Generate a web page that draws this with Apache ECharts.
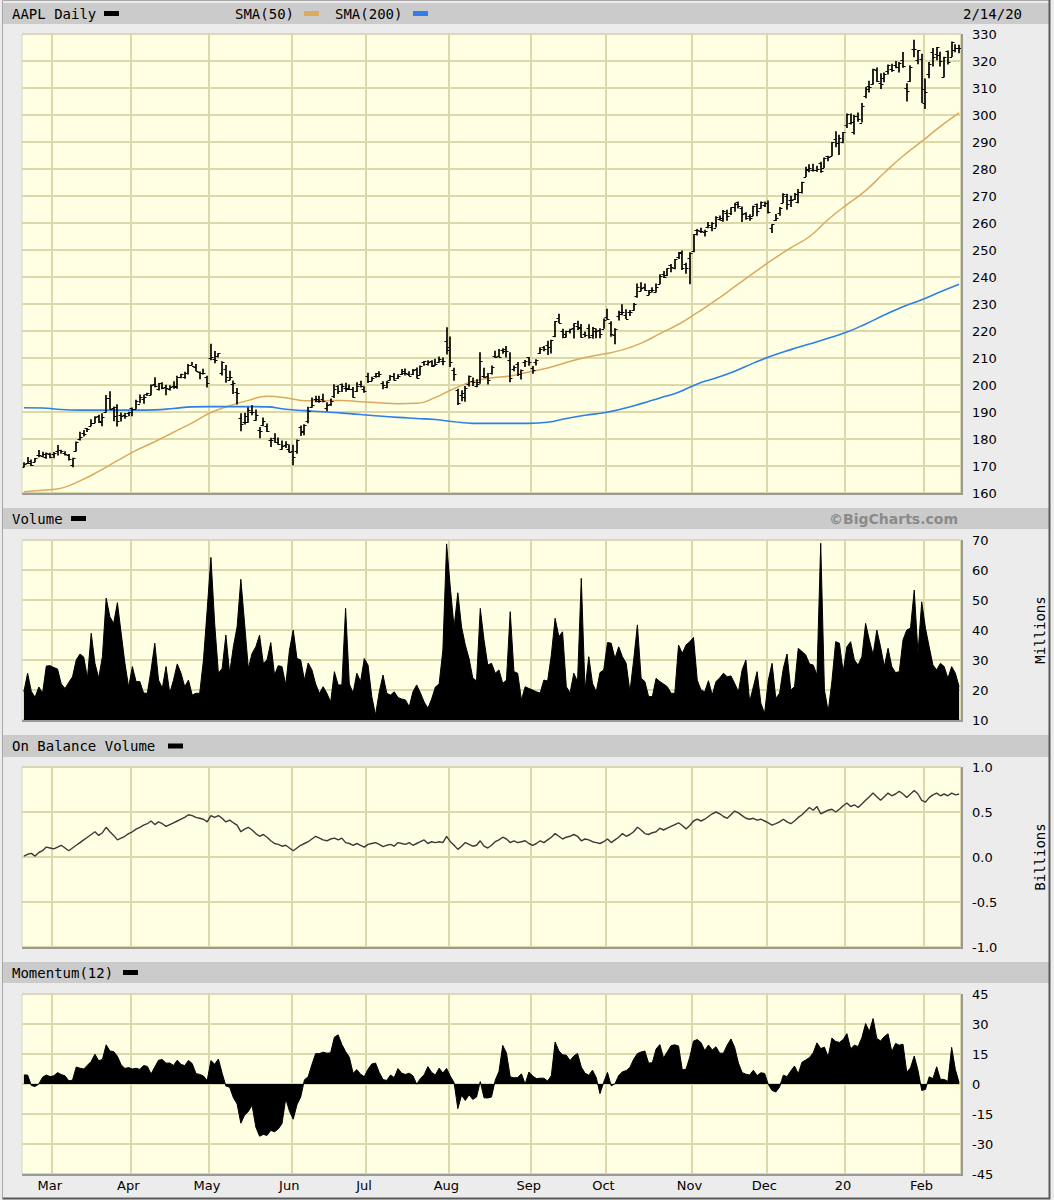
<!DOCTYPE html>
<html>
<head>
<meta charset="utf-8">
<script src="https://cdn.jsdelivr.net/npm/echarts@6/dist/echarts.min.js"></script>
<style>
html,body{margin:0;padding:0;background:#ececec;}
#chart{width:1054px;height:1200px;}
</style>
</head>
<body>
<div id="chart"></div>
<script>
// ---------------- DATA ----------------
const firstDay = '2019-02-19';
const lastDay = '2020-02-14';
const holidays = ['2019-04-19','2019-05-27','2019-07-04','2019-09-02','2019-11-28','2019-12-25','2020-01-01','2020-01-20'];
const monthKeys = ['2019-03','2019-04','2019-05','2019-06','2019-07','2019-08','2019-09','2019-10','2019-11','2019-12','2020-01','2020-02'];
const tickLabels = ['Mar','Apr','May','Jun','Jul','Aug','Sep','Oct','Nov','Dec','20','Feb'];

const priceTicks = {min:160, max:330, interval:10};
const volumeTicks = {min:10, max:70, interval:10};
const obvTicks = {min:-1, max:1, interval:0.5};
const momTicks = {min:-45, max:45, interval:15};

const open = [
169.7,171.2,171.8,171.6,174.2,173.7,173.2,174.3,
174.3,175.7,175.9,174.7,173.9,170.3,175.5,180.0,182.3,183.9,184.9,185.8,188.4,186.2,190.0,195.3,191.5,191.7,188.8,189.0,189.8,
191.6,191.1,193.0,194.8,196.5,196.4,200.3,198.7,200.9,199.2,198.6,199.5,199.5,203.1,202.8,204.4,207.4,206.8,204.9,204.4,203.1,
209.9,209.8,210.9,204.3,205.9,201.9,200.4,197.4,187.7,186.4,186.3,189.9,186.9,183.5,185.2,184.7,179.8,180.2,178.9,176.4,177.9,176.2,
175.6,175.4,184.3,183.1,186.5,191.8,194.9,194.0,194.7,191.6,192.9,196.1,199.7,200.4,198.8,198.5,198.4,197.8,200.3,198.7,
203.2,201.4,203.3,203.4,200.8,199.2,201.9,203.3,202.5,204.1,204.6,204.1,204.0,205.8,203.7,208.5,207.7,209.0,207.5,208.5,208.8,216.4,
213.9,205.5,198.0,196.3,195.4,200.2,201.3,199.6,201.0,203.2,203.5,204.3,210.6,210.9,213.0,213.2,209.4,205.9,207.9,204.1,208.5,210.2,
206.4,208.4,212.0,214.1,214.8,213.9,218.1,224.8,220.0,217.7,220.0,221.1,222.0,221.4,219.0,221.0,218.6,220.0,220.5,220.9,
225.1,223.1,218.4,225.6,226.3,225.8,227.0,227.9,233.0,234.9,236.4,233.4,235.1,234.6,237.5,241.2,240.9,244.5,243.2,247.4,249.0,244.8,247.2,
249.5,257.3,257.1,256.8,258.7,258.7,258.3,261.6,261.1,263.8,263.7,265.8,267.9,265.5,263.7,262.6,262.7,266.9,265.6,266.6,
267.3,258.3,261.1,263.8,267.5,270.0,268.6,268.8,267.8,271.5,277.0,279.6,279.8,279.5,282.2,280.5,284.7,284.8,291.1,289.5,289.9,
296.2,297.2,293.8,299.8,297.2,307.2,310.6,311.6,316.7,311.9,313.6,316.3,317.2,318.6,317.9,320.3,310.1,312.5,324.5,320.5,320.9,
304.3,315.3,323.5,322.6,322.4,314.2,323.6,321.5,324.2,324.7];
const high = [
171.4,173.3,172.4,173.0,175.9,175.3,175.0,174.9,
175.2,177.8,176.0,175.5,174.4,173.1,179.1,182.7,183.3,184.1,187.3,188.4,189.0,189.5,196.3,197.7,192.0,192.9,189.8,189.6,190.1,
191.7,194.5,196.5,196.4,197.1,200.2,202.9,200.7,201.0,200.1,199.9,201.4,203.4,204.2,204.9,207.8,208.5,207.8,205.0,206.0,203.4,
215.3,212.6,211.8,208.8,207.4,205.3,201.7,198.9,189.5,189.7,191.8,192.5,190.9,184.4,188.0,185.7,180.5,182.1,180.6,179.4,179.2,178.0,
177.9,179.8,185.0,185.5,191.9,195.4,196.0,196.0,196.8,193.6,195.0,200.3,199.9,200.6,200.8,200.2,199.3,201.0,201.6,199.5,
204.5,203.1,204.4,205.1,201.4,201.5,203.7,204.4,204.0,205.9,206.1,205.1,205.9,206.5,207.2,208.9,209.2,209.2,209.7,210.6,210.2,221.4,
218.0,206.4,198.6,198.1,199.6,203.5,202.8,202.1,212.1,206.4,204.4,207.2,212.7,213.3,213.6,214.4,212.1,207.2,208.5,205.7,209.3,210.4,
207.0,209.5,214.0,214.4,216.4,216.8,223.7,226.4,220.8,220.1,220.8,222.9,223.8,222.6,219.8,222.5,221.5,220.9,221.0,224.6,
228.2,223.6,221.0,227.5,229.9,228.1,227.8,230.4,237.6,238.1,237.6,235.2,236.2,237.6,241.0,242.2,243.2,244.8,246.7,249.3,249.8,245.3,249.2,
255.9,257.8,258.2,257.5,260.4,260.4,262.5,262.8,264.8,264.9,265.8,267.4,268.0,266.1,264.0,263.2,266.4,267.2,268.0,268.0,
268.3,259.5,263.3,265.9,271.0,270.8,270.1,271.1,272.6,275.3,280.8,281.8,281.9,281.2,282.7,284.3,284.9,290.0,294.0,292.7,293.7,
300.6,300.6,300.0,300.9,304.4,310.4,312.7,317.1,317.6,315.5,315.7,318.7,319.0,320.0,319.6,323.3,311.8,318.4,327.9,324.1,322.7,
313.5,319.6,324.8,325.2,323.4,321.6,323.9,327.2,326.2,326.0];
const low = [
169.4,170.8,170.0,171.4,173.2,173.2,172.7,172.9,
172.9,173.9,174.5,173.9,172.0,169.5,175.4,179.4,180.9,182.6,184.7,185.8,185.9,184.7,189.8,190.9,186.6,184.6,186.5,187.5,188.4,
188.4,191.0,193.2,193.1,195.9,196.2,199.2,198.0,198.4,196.2,198.0,198.6,198.6,202.5,202.3,203.9,207.2,205.1,202.1,203.9,199.1,
209.2,208.1,210.2,203.5,200.8,201.8,196.7,192.8,182.9,185.4,186.0,188.8,186.8,180.3,184.7,182.6,177.0,178.6,177.9,176.0,176.7,175.0,
170.3,174.5,181.1,181.4,185.8,191.6,193.6,193.4,193.6,190.3,192.2,195.2,196.7,197.4,197.5,198.4,195.3,197.4,199.1,197.1,
200.7,201.4,202.7,202.9,198.4,198.8,201.6,201.7,202.2,203.7,203.5,203.3,203.7,202.4,203.6,207.1,207.2,206.7,207.1,208.2,207.3,211.3,
206.7,201.6,192.6,194.0,193.8,199.4,199.6,199.2,200.5,202.6,200.2,203.9,210.0,210.3,211.6,210.2,201.0,205.1,203.3,202.0,206.7,207.1,
204.2,207.2,211.5,212.5,211.1,211.7,217.7,222.9,217.3,217.6,219.1,217.2,220.4,217.5,217.7,217.2,217.1,217.3,217.3,220.8,
224.2,217.9,215.1,223.9,225.8,224.4,225.6,227.5,232.3,234.7,234.9,233.2,234.3,234.3,237.3,239.6,240.4,241.8,242.9,246.7,242.6,241.2,237.3,
249.2,255.4,256.3,255.0,258.1,256.9,258.3,260.9,260.5,260.8,263.0,264.2,265.4,260.4,261.2,260.8,262.5,262.5,265.3,265.9,
263.5,256.3,260.7,262.7,267.3,264.9,265.9,268.5,267.3,270.9,277.0,278.8,279.1,279.0,278.6,280.4,282.9,284.7,288.1,285.2,289.5,
295.2,296.5,292.8,297.5,297.2,306.2,308.3,311.2,312.2,309.6,312.1,315.0,316.0,317.3,315.7,317.5,305.0,312.2,321.4,318.8,304.4,
302.2,313.6,318.0,320.3,318.0,313.9,318.7,321.5,323.2,322.9];
const close = [
170.9,171.1,170.4,173.0,174.2,174.3,174.9,173.2,
175.0,175.9,175.5,174.5,172.5,172.9,178.9,180.9,181.7,183.7,186.1,188.0,186.5,188.2,195.1,191.1,188.7,186.8,188.5,188.7,190.0,
191.2,194.0,195.4,195.7,197.0,200.1,199.5,200.6,199.0,198.9,199.2,199.3,203.1,203.9,204.5,207.5,207.2,205.3,204.3,204.6,200.7,
210.5,209.2,211.8,208.5,202.9,202.9,200.7,197.2,185.7,188.7,190.9,190.1,189.0,183.1,186.6,182.8,179.7,179.0,178.2,177.4,178.3,175.1,
173.3,179.6,182.5,185.2,190.2,192.6,194.8,194.2,194.2,192.7,193.9,198.5,197.9,199.5,198.8,198.6,195.6,199.8,199.7,197.9,
201.6,202.7,204.4,204.2,200.0,201.2,203.2,201.8,203.3,205.2,204.5,203.4,205.7,202.6,207.2,208.8,208.7,207.0,207.7,209.7,208.8,213.0,
208.4,204.0,193.3,197.0,199.0,203.4,201.0,200.5,209.0,202.8,201.7,206.5,210.4,210.4,212.6,212.5,202.6,206.5,204.2,205.5,209.0,208.7,
205.7,209.2,213.3,213.3,214.2,216.7,223.6,223.1,218.8,219.9,220.7,222.8,221.0,217.7,218.7,217.7,221.0,219.9,218.8,224.0,
224.6,219.0,220.8,227.0,227.1,224.4,227.0,230.1,236.2,235.9,235.3,234.4,235.3,236.4,240.5,240.0,243.2,243.6,246.6,249.1,243.3,243.3,248.8,
255.8,257.5,257.1,257.2,259.4,260.1,262.2,262.0,264.5,262.6,265.8,267.1,266.3,263.2,262.0,261.8,266.4,264.3,267.8,267.3,
264.2,259.5,261.7,265.6,270.7,266.9,268.5,270.8,271.5,275.2,279.9,280.4,279.7,280.0,279.4,284.0,284.3,289.9,289.8,291.5,293.7,
300.4,297.4,299.8,298.4,303.2,309.6,310.3,317.0,312.7,311.3,315.2,318.7,316.6,317.7,319.2,318.3,309.0,317.7,324.3,323.9,309.5,
308.7,318.9,321.5,325.2,320.0,321.6,319.6,327.2,324.9,325.0];

// moving averages read every 5th trading day
const smaStep = 5;
const sma50 = [160.5,161.0,161.8,164.5,168.0,172.0,175.8,179.0,182.5,186.0,189.8,192.3,194.3,195.8,195.3,194.2,194.2,194.3,193.8,193.4,193.1,193.2,195.4,198.7,201.3,202.6,203.3,204.8,206.3,208.3,210.2,211.5,213.0,215.5,219.0,222.5,226.8,231.4,236.4,241.4,246.3,250.8,255.0,261.3,266.8,272.0,278.6,284.8,290.2,295.8,300.8];
const sma200 = [191.6,191.5,190.9,190.7,190.7,190.7,190.7,190.8,191.3,191.9,192.0,192.0,192.0,191.9,191.0,190.5,190.1,189.6,189.1,188.5,188.0,187.6,187.2,186.4,185.8,185.8,185.8,185.8,186.2,187.6,188.8,189.7,191.2,193.1,195.2,197.3,200.4,202.6,205.1,208.1,210.8,213.1,215.2,217.3,219.6,222.6,225.9,229.0,231.6,234.5,237.3];

// millions of shares
const volume = [
19.4,25.6,19.5,17.6,21,19,28,28.1,
27.5,27,22,20.5,22.5,24.4,30,32,31,24,38.9,28.9,24,31.2,50.6,44.4,42.2,49.1,39,29,21,
27.8,22.8,22.8,19,18.9,26.7,35.6,23.3,20.6,27.8,19,23.3,28.7,25.6,21.1,23.3,18.3,18.9,18.9,30,46.7,
64.2,42.2,25.6,27.2,38.3,25.6,34.4,41.1,56.9,42.2,27.2,32.2,34.4,38.3,28.9,30,35.8,25,28.1,27.8,21.7,33.3,
40,30.5,30,23.3,29,26.7,22,18.9,21.1,18.9,16,26.1,21.7,21.7,47.2,22,19,25.6,22.8,30.5,
28.3,17.8,11.7,19.4,25,18.9,18.3,19.4,17.5,17,16.7,14.4,19.4,21.7,19,16,13.9,17,21,22,33.3,68.7,
54,40.9,52.4,41,35,30.5,24,23,47.2,36.7,28.3,28.9,25.6,26.7,22.2,23.3,46.1,26.1,25.6,16.7,21.1,20.5,
20,19.4,19,23.3,23,31.7,43.9,37.8,39.4,21.1,19,25.6,22.8,57.2,20,31.1,22.2,19.4,25.8,26.7,
35.8,35.6,30.5,34.4,31.1,28.9,19.4,30,41.7,23.9,22.8,17.8,17.8,23.9,22.8,22,21.1,18.9,18.9,35,32.2,35,36.1,
37.5,23.3,20,19.4,23.1,18.3,22.8,24,25.6,24.4,24.7,22.2,19.4,26.7,30,16.1,21.1,26.1,15.6,12.2,
23.3,28.9,17.2,18.9,27.2,32,20,21.1,33.9,32.8,31.7,28.7,28.3,25,68.9,20,12.8,23,36.1,35.6,26.1,
34.4,36.1,30,28.3,31.1,42.2,36.7,31.7,40,34.4,27.8,33.9,27.8,25.8,26.1,36.7,40,40.6,53.3,32.2,49.4,
40.6,34.4,28.3,26.7,28.9,27.8,23.9,27.8,25.6,21.1];

// billions
const obv = [
0.01,0.03,0.04,0.01,0.05,0.07,0.11,0.10,
0.09,0.11,0.13,0.10,0.07,0.10,0.13,0.16,0.19,0.22,0.25,0.28,0.24,0.27,0.33,0.28,0.24,0.19,0.21,0.23,0.26,
0.28,0.31,0.33,0.355,0.37,0.40,0.36,0.39,0.37,0.34,0.36,0.38,0.40,0.42,0.44,0.47,0.46,0.44,0.43,0.42,0.39,
0.46,0.44,0.46,0.43,0.39,0.41,0.38,0.355,0.28,0.31,0.33,0.30,0.26,0.23,0.25,0.22,0.18,0.15,0.14,0.12,0.13,0.10,
0.07,0.10,0.13,0.15,0.17,0.20,0.23,0.21,0.19,0.18,0.20,0.21,0.19,0.21,0.16,0.15,0.13,0.15,0.13,0.11,
0.14,0.15,0.16,0.14,0.115,0.13,0.14,0.12,0.16,0.15,0.14,0.16,0.13,0.15,0.17,0.19,0.15,0.17,0.16,0.17,0.16,0.23,
0.17,0.13,0.085,0.12,0.16,0.14,0.12,0.13,0.18,0.12,0.10,0.13,0.17,0.19,0.22,0.20,0.16,0.18,0.16,0.17,0.18,0.15,
0.13,0.15,0.18,0.16,0.19,0.22,0.26,0.23,0.20,0.22,0.23,0.25,0.23,0.18,0.20,0.19,0.17,0.16,0.15,0.17,
0.20,0.16,0.19,0.22,0.26,0.23,0.25,0.28,0.33,0.30,0.26,0.25,0.27,0.28,0.32,0.30,0.32,0.34,0.36,0.38,0.35,0.31,0.35,
0.40,0.42,0.40,0.42,0.45,0.48,0.50,0.48,0.45,0.43,0.47,0.51,0.49,0.46,0.43,0.42,0.43,0.41,0.42,0.40,
0.38,0.355,0.37,0.39,0.42,0.39,0.37,0.40,0.44,0.47,0.51,0.55,0.52,0.56,0.48,0.50,0.52,0.53,0.50,0.53,0.57,
0.60,0.56,0.58,0.55,0.59,0.63,0.67,0.71,0.67,0.63,0.67,0.71,0.68,0.70,0.73,0.70,0.66,0.70,0.74,0.70,0.63,
0.61,0.66,0.69,0.71,0.68,0.70,0.68,0.71,0.69,0.70];

const momentum = [
4.5,4.5,-0.8,-1.2,0.0,3.4,4.5,3.7,
4.1,5.7,4.7,4.1,1.6,1.9,8.5,7.9,7.5,9.4,11.3,14.9,11.6,12.3,19.6,16.5,16.2,13.9,9.6,7.8,8.2,
7.5,7.9,7.3,9.2,8.8,5.0,8.5,11.9,12.2,10.4,10.5,9.3,11.9,9.8,9.2,11.8,10.2,5.2,4.8,4.0,1.7,
11.7,9.9,12.5,5.4,-1.0,-1.6,-6.8,-10.0,-19.6,-15.6,-13.7,-10.6,-21.5,-26.1,-25.2,-25.7,-23.2,-23.9,-22.5,-19.8,-7.4,-13.6,
-17.6,-10.4,-6.5,2.1,3.6,9.8,15.2,15.2,15.9,15.4,15.6,23.4,24.6,19.8,16.2,13.4,5.4,7.2,4.9,3.7,
7.4,10.0,10.5,5.8,2.2,1.8,4.5,3.2,7.7,5.4,4.8,5.4,4.1,-0.1,2.8,4.6,8.7,5.8,4.5,7.9,5.5,7.8,
3.9,0.7,-12.3,-5.6,-8.2,-5.4,-7.7,-6.5,1.2,-6.9,-7.0,-6.5,1.9,6.3,19.3,15.5,3.6,3.1,3.2,5.1,0.0,6.0,
4.0,2.7,2.9,2.9,1.5,4.2,21.0,16.6,14.6,14.4,11.7,14.0,15.3,8.5,5.4,4.4,6.9,3.2,-4.8,0.9,
5.8,-0.9,0.1,4.2,6.1,6.7,8.3,12.4,15.2,16.0,16.5,10.4,10.7,17.5,19.7,13.0,16.1,19.2,19.6,19.0,7.1,7.4,13.4,
21.5,22.2,20.7,16.7,19.5,17.0,18.6,15.4,15.4,19.4,22.5,18.3,10.5,5.7,4.9,4.5,6.9,4.2,5.6,5.3,
-0.3,-3.2,-4.0,-1.5,4.4,3.7,6.5,9.0,5.1,10.9,12.0,13.2,15.6,20.6,17.7,18.4,13.6,23.0,21.3,20.8,22.2,
25.2,17.6,19.4,18.7,23.2,30.2,26.3,32.7,22.8,21.5,23.7,25.1,16.2,20.3,19.4,19.9,5.8,8.1,14.0,6.9,-3.2,
-2.7,3.6,2.7,8.6,2.3,2.3,1.3,18.3,7.2,0.6];

// ---------------- CATEGORIES (trading days) ----------------
function buildTradingDays(){
  const out = [];
  const d = new Date(firstDay + 'T00:00:00Z');
  const end = new Date(lastDay + 'T00:00:00Z').getTime();
  while (d.getTime() <= end){
    const wd = d.getUTCDay();
    const s = d.toISOString().slice(0,10);
    if (wd !== 0 && wd !== 6 && holidays.indexOf(s) < 0) out.push(s);
    d.setUTCDate(d.getUTCDate() + 1);
  }
  return out;
}
const dates = buildTradingDays();

function isMonthStart(i){
  return i > 0 && dates[i].slice(0,7) !== dates[i-1].slice(0,7);
}
function monthLabel(value){
  const k = monthKeys.indexOf(String(value).slice(0,7));
  return k >= 0 ? tickLabels[k] : '';
}

// ---------------- STYLE / LAYOUT ----------------
const PLOT_BG = '#ffffe3';
const GRID_LINE = '#dbd8aa';
const HEADER_BG = '#cbcbcb';
const MONO = '"DejaVu Sans Mono", monospace';
const SANS = '"DejaVu Sans", Verdana, sans-serif';
const L = 22, W = 939;
const panels = [
  {top:34, height:459, ticks:priceTicks, fmt:v=>String(v)},
  {top:540, height:180, ticks:volumeTicks, fmt:v=>String(v)},
  {top:767, height:180, ticks:obvTicks, fmt:v=>v.toFixed(1)},
  {top:994, height:180, ticks:momTicks, fmt:v=>String(v)}
];

const grids = panels.map(p => ({
  left:L, top:p.top, width:W, height:p.height,
  show:true, backgroundColor:PLOT_BG, borderWidth:0,
  containLabel:false, outerBoundsMode:'none'
}));
const xAxes = panels.map((p, k) => ({
  type:'category', gridIndex:k, data:dates, boundaryGap:true,
  axisLine:{show:false}, axisTick:{show:false},
  axisLabel:{show:k===3, interval:isMonthStart, formatter:monthLabel, hideOverlap:false,
    color:'#000', fontFamily:SANS, fontSize:13, margin:5, padding:[0,8,0,0]},
  splitLine:{show:true, interval:isMonthStart, lineStyle:{color:GRID_LINE, width:2}}
}));
const yAxes = panels.map((p, k) => ({
  type:'value', gridIndex:k, position:'right',
  min:p.ticks.min, max:p.ticks.max, interval:p.ticks.interval,
  axisLine:{show:false}, axisTick:{show:false},
  axisLabel:{color:'#000', fontFamily:SANS, fontSize:13, margin:11, formatter:p.fmt, hideOverlap:false},
  splitLine:{show:true, lineStyle:{color:GRID_LINE, width:2}}
}));

const ohlcData = dates.map((d, i) => [i, open[i], high[i], low[i], close[i]]);
const sma50Data = sma50.map((v, k) => [dates[k * smaStep], v]);
const sma200Data = sma200.map((v, k) => [dates[k * smaStep], v]);

function renderOHLC(params, api){
  const i = api.value(0);
  const pO = api.coord([i, api.value(1)]);
  const pH = api.coord([i, api.value(2)]);
  const pL = api.coord([i, api.value(3)]);
  const pC = api.coord([i, api.value(4)]);
  const x = Math.round(pH[0]);
  return {
    type:'group',
    children:[
      {type:'line', shape:{x1:x, y1:pH[1], x2:x, y2:pL[1]}, style:{stroke:'#000', lineWidth:1.7}},
      {type:'line', shape:{x1:x-2.5, y1:Math.round(pO[1])+0.5, x2:x, y2:Math.round(pO[1])+0.5}, style:{stroke:'#000', lineWidth:1}},
      {type:'line', shape:{x1:x, y1:Math.round(pC[1])+0.5, x2:x+2.5, y2:Math.round(pC[1])+0.5}, style:{stroke:'#000', lineWidth:1}}
    ]
  };
}

// ---------------- DECORATION ----------------
const headerBars = [
  {y:3, h:21}, {y:508, h:21}, {y:735, h:22}, {y:962, h:21}
];
const graphics = [];
headerBars.forEach(b => graphics.push({type:'rect', shape:{x:3, y:b.y, width:1046, height:b.h}, style:{fill:HEADER_BG}, silent:true}));
function txt(text, x, y, opts){
  return Object.assign({type:'text', x:x, y:y, silent:true,
    style:Object.assign({text:text, fill:'#000', font:'14px ' + MONO, textAlign:'left', textVerticalAlign:'middle'}, opts || {})});
}
function swatch(x, y, color){
  return {type:'rect', shape:{x:x, y:y, width:15, height:5}, style:{fill:color}, silent:true};
}
graphics.push(txt('AAPL Daily', 12, 13.5));
graphics.push(swatch(104, 11, '#000'));
graphics.push(txt('SMA(50)', 235, 13.5));
graphics.push(swatch(304, 11, '#dca95e'));
graphics.push(txt('SMA(200)', 335, 13.5));
graphics.push(swatch(413, 11, '#2f7fe8'));
graphics.push(txt('2/14/20', 1022, 13.5, {textAlign:'right'}));
graphics.push(txt('Volume', 12, 518.5));
graphics.push(swatch(71, 516, '#000'));
graphics.push(txt('\u00a9BigCharts.com', 958, 518.5, {textAlign:'right', fill:'#8a8a8a', font:'bold 14px ' + SANS}));
graphics.push(txt('On Balance Volume', 12, 746));
graphics.push(swatch(168, 743.5, '#000'));
graphics.push(txt('Momentum(12)', 12, 972.5));
graphics.push(swatch(123, 970, '#000'));
graphics.push(Object.assign(txt('Millions', 1040, 630, {textAlign:'center'}), {rotation:Math.PI/2}));
graphics.push(Object.assign(txt('Billions', 1040, 857, {textAlign:'center'}), {rotation:Math.PI/2}));
// plot edge shading
panels.forEach(p => {
  const b = p.top + p.height;
  graphics.push({type:'polyline', shape:{points:[[L, b + 1], [L + W + 1, b + 1], [L + W + 1, p.top]]}, style:{stroke:'#9a9a9a', lineWidth:2, fill:null}, silent:true, z:10});
  graphics.push({type:'polyline', shape:{points:[[L, b], [L, p.top], [L + W, p.top]]}, style:{stroke:'#d7d6c4', lineWidth:1, fill:null}, silent:true, z:10});
});
// outer frame
graphics.push({type:'polyline', shape:{points:[[2.5, 1198], [2.5, 0.5], [1049, 0.5]]}, style:{stroke:'#a8a8a8', lineWidth:1, fill:null}, silent:true});
graphics.push({type:'polyline', shape:{points:[[2.5, 1198.5], [1049.5, 1198.5], [1049.5, 0]]}, style:{stroke:'#5a5a5a', lineWidth:2, fill:null}, silent:true});

// ---------------- CHART ----------------
const chart = echarts.init(document.getElementById('chart'), null, {renderer:'svg'});
chart.setOption({
  backgroundColor:'#ececec',
  animation:false,
  grid:grids,
  xAxis:xAxes,
  yAxis:yAxes,
  graphic:{elements:graphics},
  series:[
    {type:'custom', name:'AAPL Daily', xAxisIndex:0, yAxisIndex:0, data:ohlcData,
     dimensions:['i','open','high','low','close'], encode:{x:0, y:[1,2,3,4]},
     renderItem:renderOHLC, clip:true, z:3},
    {type:'line', name:'SMA(50)', xAxisIndex:0, yAxisIndex:0, data:sma50Data, showSymbol:false, symbol:'none',
     smooth:0.5, connectNulls:true, lineStyle:{color:'#dca95e', width:1.5}, z:2},
    {type:'line', name:'SMA(200)', xAxisIndex:0, yAxisIndex:0, data:sma200Data, showSymbol:false, symbol:'none',
     smooth:0.5, connectNulls:true, lineStyle:{color:'#2f7fe8', width:1.6}, z:2},
    {type:'line', name:'Volume', xAxisIndex:1, yAxisIndex:1, data:volume, showSymbol:false, symbol:'none',
     lineStyle:{color:'#000', width:1}, areaStyle:{color:'#000', opacity:1, origin:'start'}},
    {type:'line', name:'On Balance Volume', xAxisIndex:2, yAxisIndex:2, data:obv, showSymbol:false, symbol:'none',
     lineStyle:{color:'#3a3a3a', width:1.4}},
    {type:'line', name:'Momentum(12)', xAxisIndex:3, yAxisIndex:3, data:momentum, showSymbol:false, symbol:'none',
     lineStyle:{color:'#000', width:1}, areaStyle:{color:'#000', opacity:1}}
  ]
});
</script>
</body>
</html>
